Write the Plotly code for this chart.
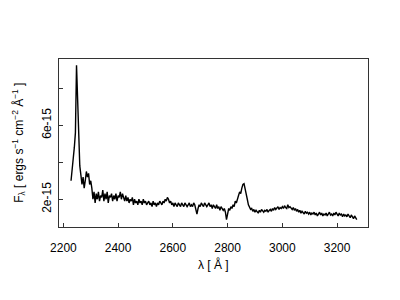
import numpy as np
import plotly.graph_objects as go

# wavelength sampling grid (Angstrom), 4 A steps
wave_start = 2228
wave_step = 4
flux_e15 = [
    3.0, 3.9, 4.2, 4.8, 5.6, 9.24, 7.2, 5.2, 3.8, 3.3,
    2.8, 3.2, 2.6, 3.0, 3.5, 3.2, 3.4, 2.8, 3.0, 2.6,
    2.0, 2.4, 1.8, 2.3, 2.0, 2.4, 1.9, 2.2, 2.1, 2.5,
    1.9, 2.3, 2.0, 2.4, 1.8, 2.2, 2.1, 2.3, 1.9, 2.2,
    2.0, 2.3, 1.9, 2.2, 2.1, 2.4, 2.0, 2.3, 2.1, 1.9,
    2.2, 1.9, 2.1, 1.8, 2.0, 1.9, 2.1, 1.7, 2.0, 1.8,
    1.9, 1.7, 2.0, 1.8, 1.9, 1.7, 2.0, 1.8, 1.9, 1.7,
    1.8, 1.9, 1.7, 1.8, 1.6, 1.9, 1.7, 1.8, 1.6, 1.8,
    1.7, 1.9, 1.8, 1.7, 1.9, 1.8, 2.0, 1.9, 2.1, 2.0,
    1.8, 1.9, 1.7, 1.8, 1.6, 1.8, 1.7, 1.6, 1.8, 1.7,
    1.6, 1.8, 1.7, 1.6, 1.8, 1.7, 1.6, 1.7, 1.8, 1.6,
    1.7, 1.6, 1.8, 1.7, 1.5, 1.2, 1.5, 1.7, 1.6, 1.8,
    1.7, 1.6, 1.8, 1.7, 1.6, 1.7, 1.8, 1.6, 1.7, 1.5,
    1.7, 1.6, 1.5, 1.7, 1.5, 1.6, 1.4, 1.6, 1.5, 1.4,
    1.5, 1.3, 0.9, 1.3, 1.5, 1.4, 1.6, 1.5, 1.7, 1.6,
    1.9, 1.8, 2.1, 2.2, 2.4, 2.3, 2.6, 2.8, 2.84, 2.6,
    2.3, 2.0, 1.7, 1.55, 1.45, 1.5, 1.35, 1.45, 1.3, 1.4,
    1.35, 1.25, 1.4, 1.3, 1.45, 1.35, 1.3, 1.4, 1.35, 1.45,
    1.3, 1.4, 1.45, 1.35, 1.5, 1.4, 1.55, 1.45, 1.5, 1.6,
    1.45, 1.55, 1.5, 1.6, 1.5, 1.65, 1.55, 1.5, 1.7, 1.55,
    1.6, 1.5, 1.45, 1.55, 1.4, 1.5, 1.35, 1.45, 1.3, 1.4,
    1.25, 1.35, 1.3, 1.2, 1.35, 1.25, 1.3, 1.2, 1.3, 1.15,
    1.25, 1.2, 1.3, 1.15, 1.25, 1.1, 1.2, 1.3, 1.15, 1.25,
    1.1, 1.2, 1.15, 1.25, 1.1, 1.2, 1.3, 1.15, 1.2, 1.1,
    1.25, 1.15, 1.3, 1.2, 1.1, 1.25, 1.15, 1.2, 1.05, 1.2,
    1.1, 1.15, 1.05, 1.2, 1.1, 1.0, 1.15, 1.05, 0.95, 1.1,
    0.95, 0.9,
]
wavelength = wave_start + wave_step * np.arange(len(flux_e15))
flux = np.array(flux_e15) * 1e-15

x_ticks = [2200, 2400, 2600, 2800, 3000, 3200]
y_ticks = [2e-15, 4e-15, 6e-15, 8e-15]
y_tick_text = ["2e-15", "", "6e-15", ""]

FONT = "Liberation Sans, Arial, sans-serif"

fig = go.Figure()
fig.add_trace(go.Scatter(x=wavelength, y=flux, mode="lines",
                         line=dict(color="black", width=1.4), showlegend=False))

axis_common = dict(showline=True, mirror=True, linecolor="#333", linewidth=1,
                   ticks="inside", ticklen=4, tickcolor="#333", showgrid=False,
                   zeroline=False, tickfont=dict(family=FONT, size=12, color="black"))

fig.update_layout(
    width=400, height=300,
    margin=dict(l=59, r=32, t=59, b=73),
    paper_bgcolor="white", plot_bgcolor="white",
    xaxis=dict(range=[2184, 3313], tickvals=x_ticks,
               ticktext=[str(v) for v in x_ticks], ticklabelstandoff=10, **axis_common),
    yaxis=dict(range=[0.5e-15, 9.58e-15], tickvals=y_ticks, ticktext=y_tick_text,
               tickangle=-90, ticklabelstandoff=2, **axis_common),
    annotations=[
        dict(text="λ [ Å ]", xref="paper", yref="paper", x=0.5, y=-0.225,
             xanchor="center", yanchor="middle", showarrow=False,
             font=dict(family=FONT, size=12, color="black")),
        dict(text="F<sub>λ</sub> [ ergs s<sup>−1</sup> cm<sup>−2</sup> Å<sup>−1</sup> ]",
             xref="paper", yref="paper", x=-0.13, y=0.5, textangle=-90,
             xanchor="center", yanchor="middle", showarrow=False,
             font=dict(family=FONT, size=12, color="black")),
    ],
)

fig.write_html("out.html")
